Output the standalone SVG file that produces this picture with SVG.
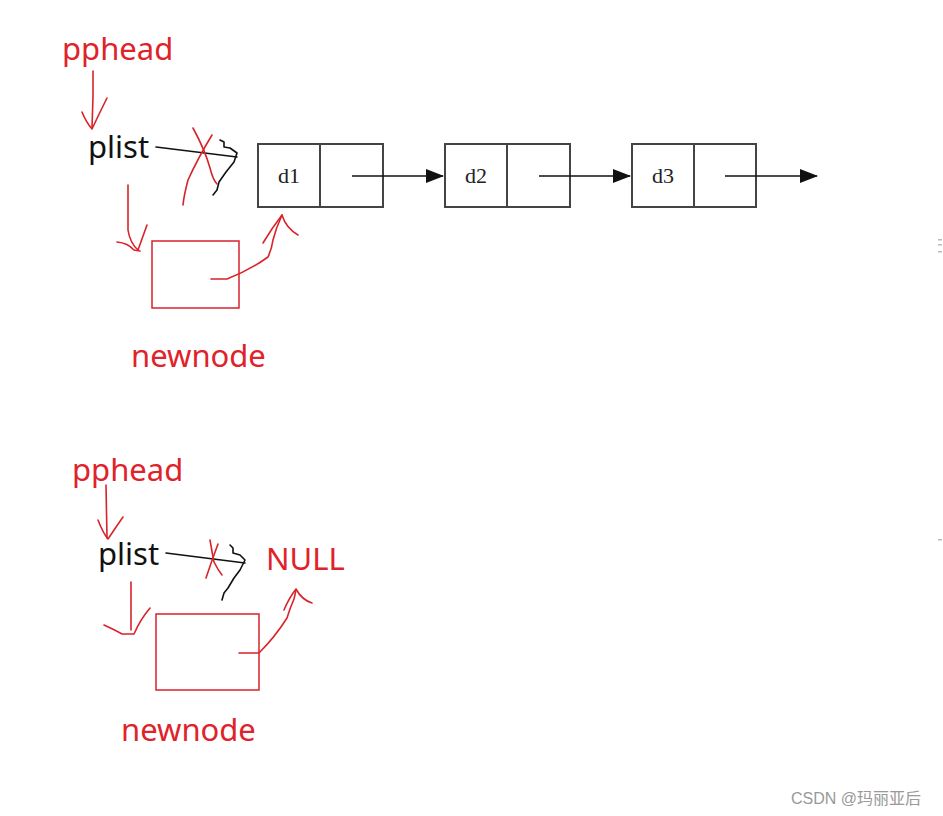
<svg xmlns="http://www.w3.org/2000/svg" width="943" height="816" viewBox="0 0 943 816">
<style>
.lbl{font-family:"Noto Sans","Liberation Sans",sans-serif;font-size:31px}
.red{fill:#e0222a}
.blk{fill:#111}
.ink{fill:none;stroke:#d8232a;stroke-width:1.6;stroke-linecap:round;stroke-linejoin:round}
.pen{fill:none;stroke:#111;stroke-width:1.6;stroke-linecap:round;stroke-linejoin:round}
.cell{fill:#fff;stroke:#444;stroke-width:2}
.dv{font-family:"Liberation Serif",serif;font-size:22px;fill:#222}
.ln{stroke:#111;stroke-width:1.5}
</style>
<defs>
<marker id="ah" markerWidth="18" markerHeight="14" refX="17" refY="7" orient="auto" markerUnits="userSpaceOnUse">
<path d="M0,0 L18,7 L0,14 Z" fill="#111"/>
</marker>
</defs>
<rect width="943" height="816" fill="#fff"/>

<g id="top-pphead"><text class="lbl red" x="62" y="60">pphead</text></g>
<g id="top-plist"><text class="lbl blk" x="88" y="158">plist</text></g>
<g id="top-newnode"><rect x="152" y="241" width="87" height="67" fill="none" stroke="#d8232a" stroke-width="1.5"/><text class="lbl red" x="131" y="367">newnode</text></g>

<g id="node-d1"><rect class="cell" x="258" y="144" width="125" height="63"/><line x1="320" y1="144" x2="320" y2="207" stroke="#444" stroke-width="2"/><text class="dv" x="289" y="183" text-anchor="middle">d1</text></g>
<g id="node-d2"><rect class="cell" x="445" y="144" width="125" height="63"/><line x1="507" y1="144" x2="507" y2="207" stroke="#444" stroke-width="2"/><text class="dv" x="476" y="183" text-anchor="middle">d2</text></g>
<g id="node-d3"><rect class="cell" x="632" y="144" width="124" height="63"/><line x1="694" y1="144" x2="694" y2="207" stroke="#444" stroke-width="2"/><text class="dv" x="663" y="183" text-anchor="middle">d3</text></g>

<g id="bot-pphead"><text class="lbl red" x="72" y="481">pphead</text></g>
<g id="bot-plist"><text class="lbl blk" x="98" y="565">plist</text></g>
<g id="bot-null"><text class="lbl red" x="266" y="570">NULL</text></g>
<g id="bot-newnode"><rect x="156" y="614" width="103" height="76" fill="none" stroke="#d8232a" stroke-width="1.5"/><text class="lbl red" x="121" y="741">newnode</text></g>

<g id="watermark"><text x="791" y="804" font-family="'Liberation Sans','Noto Sans CJK SC',sans-serif" font-size="16" fill="#999">CSDN @玛丽亚后</text></g>
<g id="edge-marks" fill="#bbb"><rect x="938" y="239" width="4" height="1.5"/><rect x="938" y="244" width="4" height="1.5"/><rect x="938" y="251" width="4" height="1.5"/><rect x="938" y="539" width="4" height="1.5"/></g>

<g id="connectors">
<line class="ln" x1="352" y1="176" x2="443" y2="176" marker-end="url(#ah)"/>
<line class="ln" x1="539" y1="176" x2="630" y2="176" marker-end="url(#ah)"/>
<line class="ln" x1="725" y1="176" x2="817" y2="176" marker-end="url(#ah)"/>

<!-- top hand-drawn -->
<path class="ink" d="M93,71 L93,96 L92,128"/>
<path class="ink" d="M82,112 Q86,122 92,129 Q100,112 107,98"/>
<path class="pen" d="M156,147 L237,157"/>
<path class="pen" d="M220,140 L224,142 L224,147 L230,148 L237,153 L234,162 L226,172 L219,182 L217,190 L213,195"/>
<path class="ink" d="M193,128 Q205,150 210,168 Q213,180 217,184"/>
<path class="ink" d="M212,135 Q198,158 188,180 Q184,195 183,205"/>
<path class="ink" d="M128,185 L128,230 Q130,243 138,250 Q143,236 147,225"/>
<path class="ink" d="M117,242 Q128,243 134,250 L140,251"/>
<path class="ink" d="M211,279 L227,279 Q250,270 268,257 Q272,248 273,240 Q276,228 282,215"/>
<path class="ink" d="M263,243 Q272,228 282,215 Q286,228 298,235"/>

<!-- bottom hand-drawn -->
<path class="ink" d="M106,485 L107,538"/>
<path class="ink" d="M98,520 Q103,533 108,539 Q116,527 123,517"/>
<path class="pen" d="M166,553 L245,563"/>
<path class="pen" d="M230,545 L233,548 L233,553 L240,555 L245,560 L240,570 L234,578 L228,588 L224,593 L222,600"/>
<path class="ink" d="M210,540 Q212,552 214,562 Q218,570 222,575"/>
<path class="ink" d="M218,544 Q212,560 206,578"/>
<path class="ink" d="M131,582 L131,630"/>
<path class="ink" d="M104,625 Q115,630 122,634 L134,634 Q140,620 150,608"/>
<path class="ink" d="M239,653 L259,653 Q275,637 287,618 Q290,608 294,599 L296,590"/>
<path class="ink" d="M284,610 Q289,598 296,589 Q302,600 312,603"/>
</g>
</svg>
